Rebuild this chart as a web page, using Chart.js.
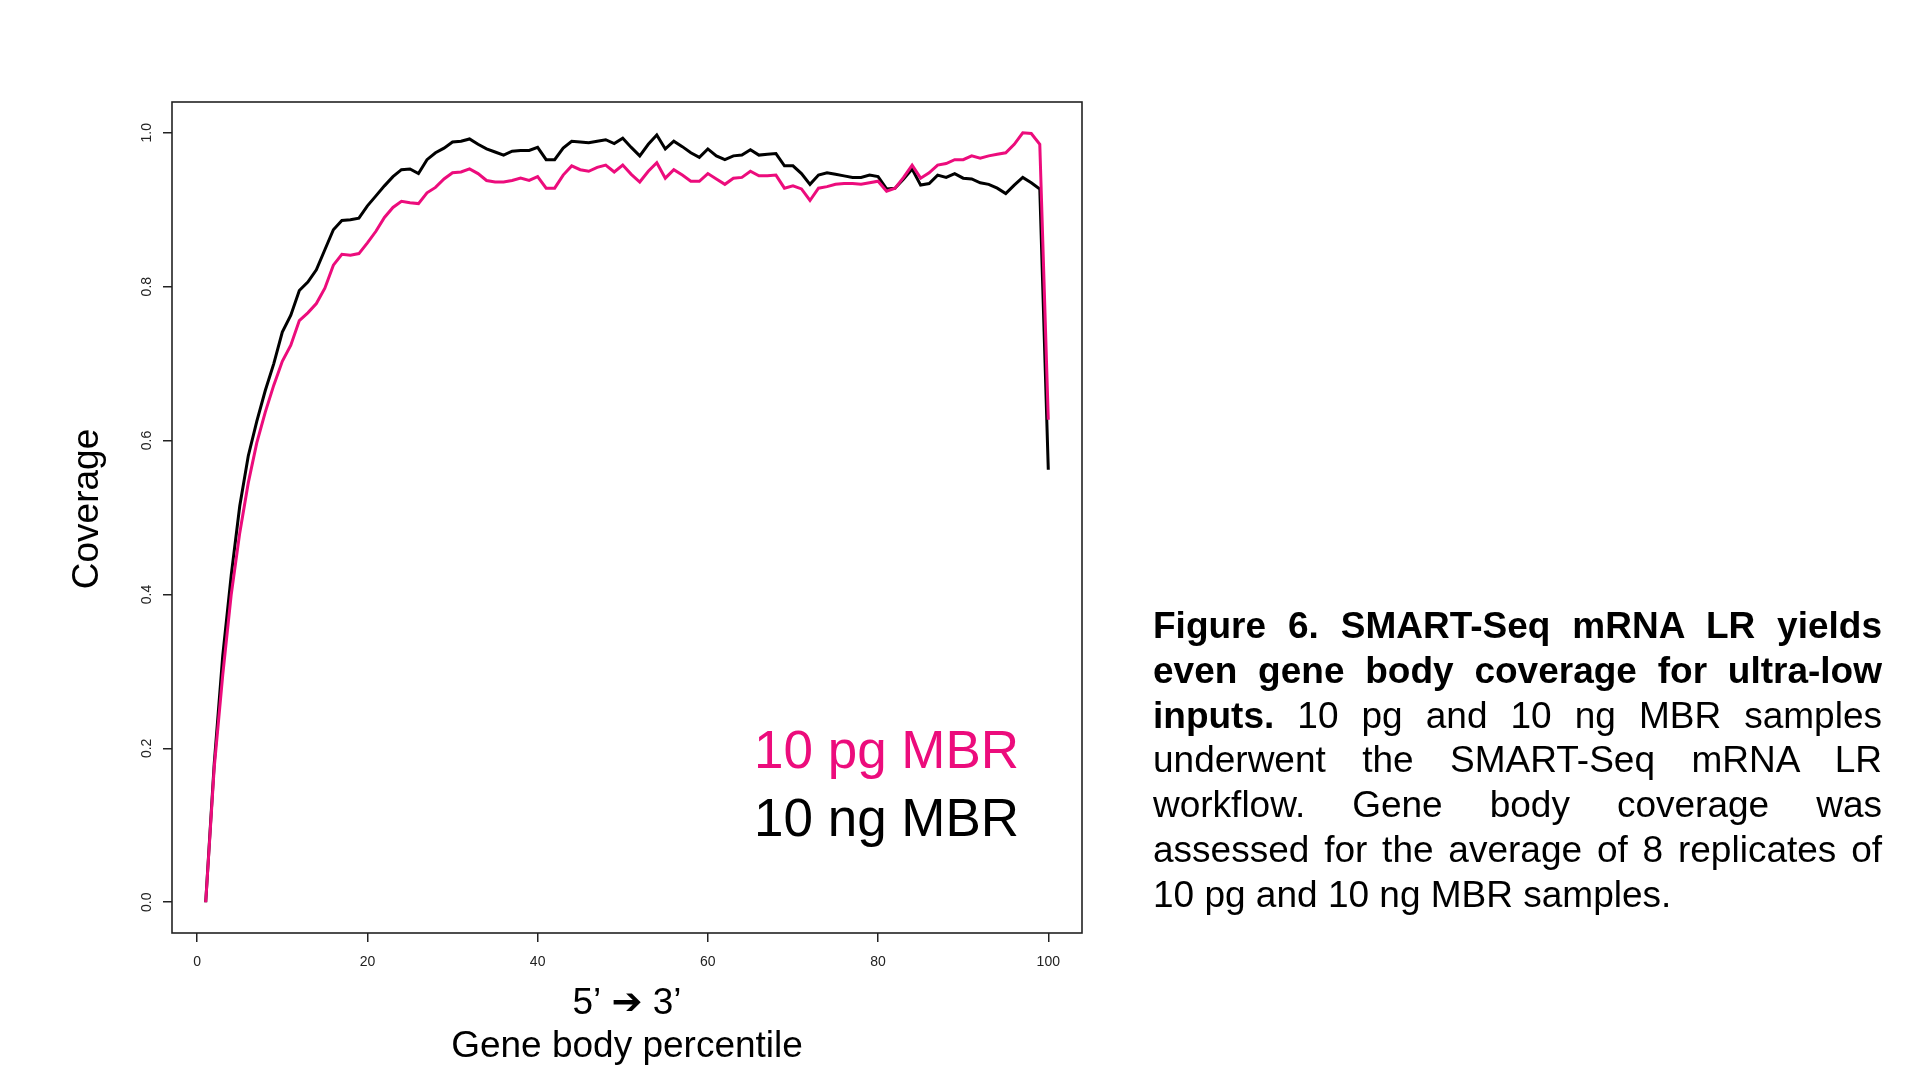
<!DOCTYPE html>
<html>
<head>
<meta charset="utf-8">
<title>Gene body coverage</title>
<script src="https://cdn.jsdelivr.net/npm/chart.js@4.4.1/dist/chart.umd.min.js"></script>
<style>
  html, body { margin: 0; padding: 0; background: #fff; }
  body { width: 1907px; height: 1070px; position: relative; overflow: hidden; font-family: "Liberation Sans", Arial, sans-serif; }
  #chart { position: absolute; left: 0; top: 0; }
  .legend { position: absolute; left: 754px; font-size: 53px; line-height: 68.4px; white-space: nowrap; }
  .caption { position: absolute; left: 1153px; top: 604px; width: 729px; font-size: 37px; line-height: 44.8px; color: #000; }
  .caption div { text-align: justify; text-align-last: justify; white-space: nowrap; }
  .caption div.last { text-align-last: left; }
</style>
</head>
<body>
<canvas id="chart" width="1907" height="1070"></canvas>

<div class="legend" style="top:716px; color:#EC0C7C;">10 pg MBR</div>
<div class="legend" style="top:784.4px; color:#000;">10 ng MBR</div>

<div class="caption">
  <div><b>Figure 6. SMART-Seq mRNA LR yields</b></div>
  <div><b>even gene body coverage for ultra-low</b></div>
  <div><b>inputs.</b> 10 pg and 10 ng MBR samples</div>
  <div>underwent the SMART-Seq mRNA LR</div>
  <div>workflow. Gene body coverage was</div>
  <div>assessed for the average of 8 replicates of</div>
  <div class="last">10 pg and 10 ng MBR samples.</div>
</div>

<script>
// gene body percentile (x)
var percentiles = [1,2,3,4,5,6,7,8,9,10,
    11,12,13,14,15,16,17,18,19,20,
    21,22,23,24,25,26,27,28,29,30,
    31,32,33,34,35,36,37,38,39,40,
    41,42,43,44,45,46,47,48,49,50,
    51,52,53,54,55,56,57,58,59,60,
    61,62,63,64,65,66,67,68,69,70,
    71,72,73,74,75,76,77,78,79,80,
    81,82,83,84,85,86,87,88,89,90,
    91,92,93,94,95,96,97,98,99,100];

// average coverage, 10 pg MBR (pink)
var cov10pg = [0.000,0.175,0.295,0.400,0.480,0.545,0.597,0.637,0.672,0.703,
    0.724,0.756,0.766,0.778,0.798,0.828,0.842,0.841,0.843,0.857,
    0.872,0.890,0.903,0.911,0.909,0.908,0.922,0.929,0.940,0.948,
    0.949,0.953,0.947,0.938,0.936,0.936,0.938,0.941,0.938,0.943,
    0.928,0.928,0.945,0.957,0.952,0.950,0.955,0.958,0.949,0.958,
    0.946,0.936,0.950,0.961,0.941,0.952,0.945,0.937,0.937,0.947,
    0.940,0.933,0.941,0.942,0.950,0.944,0.944,0.945,0.928,0.931,
    0.927,0.912,0.928,0.930,0.933,0.934,0.934,0.933,0.935,0.937,
    0.924,0.928,0.942,0.958,0.941,0.948,0.958,0.960,0.965,0.965,
    0.970,0.967,0.970,0.972,0.974,0.985,1.000,0.999,0.985,0.627];

// average coverage, 10 ng MBR (black)
var cov10ng = [0.000,0.180,0.320,0.425,0.515,0.580,0.625,0.665,0.700,0.741,
    0.763,0.795,0.806,0.822,0.848,0.874,0.886,0.887,0.889,0.905,
    0.918,0.931,0.943,0.952,0.953,0.947,0.965,0.974,0.980,0.988,
    0.989,0.992,0.985,0.979,0.975,0.971,0.976,0.977,0.977,0.981,
    0.965,0.965,0.980,0.989,0.988,0.987,0.989,0.991,0.986,0.993,
    0.981,0.970,0.985,0.997,0.979,0.989,0.982,0.974,0.968,0.979,
    0.970,0.965,0.970,0.971,0.978,0.971,0.972,0.973,0.957,0.957,
    0.947,0.933,0.945,0.948,0.946,0.944,0.942,0.942,0.945,0.943,
    0.927,0.928,0.940,0.953,0.932,0.934,0.945,0.942,0.947,0.941,
    0.940,0.935,0.933,0.928,0.921,0.932,0.942,0.935,0.927,0.562];

var xTicks = [0, 20, 40, 60, 80, 100];
var yTicks = [0.0, 0.2, 0.4, 0.6, 0.8, 1.0];

function toPoints(ys) {
    return percentiles.map(function(x, i) { return {x: x, y: ys[i]}; });
}

// R style box round the plot region, rotated y labels and y title
const rBox = {
    id: 'rBox',
    afterDraw: function(chart) {
        const ctx = chart.ctx;
        const a = chart.chartArea;
        ctx.save();
        ctx.strokeStyle = '#222';
        ctx.lineWidth = 1.6;
        ctx.strokeRect(a.left, a.top, a.right - a.left, a.bottom - a.top);

        const ys = chart.scales.y;
        ctx.fillStyle = '#222';
        ctx.font = '14px "Liberation Sans", Arial, sans-serif';
        ctx.textAlign = 'center';
        ctx.textBaseline = 'middle';
        ys.ticks.forEach(function(t) {
            const py = ys.getPixelForValue(t.value);
            ctx.save();
            ctx.translate(147, py);
            ctx.rotate(-Math.PI / 2);
            ctx.fillText(t.value.toFixed(1), 0, 0);
            ctx.restore();
        });

        ctx.fillStyle = '#000';
        ctx.font = '37px "Liberation Sans", Arial, sans-serif';
        ctx.translate(88, 509);
        ctx.rotate(-Math.PI / 2);
        ctx.fillText('Coverage', 0, 0);
        ctx.restore();
    }
};

const ctx = document.getElementById('chart');
const myChart = new Chart(ctx, {
    type: 'line',
    data: {
        datasets: [{
            label: '10 pg MBR',
            data: toPoints(cov10pg),
            borderColor: '#EC0C7C',
            borderWidth: 3,
            pointRadius: 0,
            tension: 0
        }, {
            label: '10 ng MBR',
            data: toPoints(cov10ng),
            borderColor: '#000000',
            borderWidth: 3,
            pointRadius: 0,
            tension: 0
        }]
    },
    options: {
        responsive: false,
        animation: false,
        devicePixelRatio: 1,
        layout: { padding: { left: 0, top: 102, right: 825, bottom: 0 } },
        plugins: { legend: { display: false }, tooltip: { enabled: false } },
        scales: {
            x: {
                type: 'linear',
                min: -2.96,
                max: 103.96,
                afterBuildTicks: function(scale) {
                    scale.ticks = xTicks.map(function(v) { return {value: v}; });
                },
                afterFit: function(scale) { scale.height = 137; },
                grid: { display: true, drawOnChartArea: false, drawTicks: true, tickLength: 9, color: '#222', lineWidth: 1.5 },
                border: { display: false },
                ticks: {
                    color: '#222',
                    padding: 12,
                    maxRotation: 0,
                    font: { family: '"Liberation Sans", Arial, sans-serif', size: 14 }
                },
                title: {
                    display: true,
                    text: ['5\u2019 \u2794 3\u2019', 'Gene body percentile'],
                    color: '#000',
                    font: { family: '"Liberation Sans", "DejaVu Sans", Arial, sans-serif', size: 37, lineHeight: 1.15 },
                    padding: { top: 0, bottom: 2 }
                }
            },
            y: {
                type: 'linear',
                min: -0.04,
                max: 1.04,
                afterBuildTicks: function(scale) {
                    scale.ticks = yTicks.map(function(v) { return {value: v}; });
                },
                afterFit: function(scale) { scale.width = 172; },
                grid: { display: true, drawOnChartArea: false, drawTicks: true, tickLength: 9, color: '#222', lineWidth: 1.5 },
                border: { display: false },
                ticks: { display: false },
                title: { display: false }
            }
        }
    },
    plugins: [rBox]
});
</script>
</body>
</html>
